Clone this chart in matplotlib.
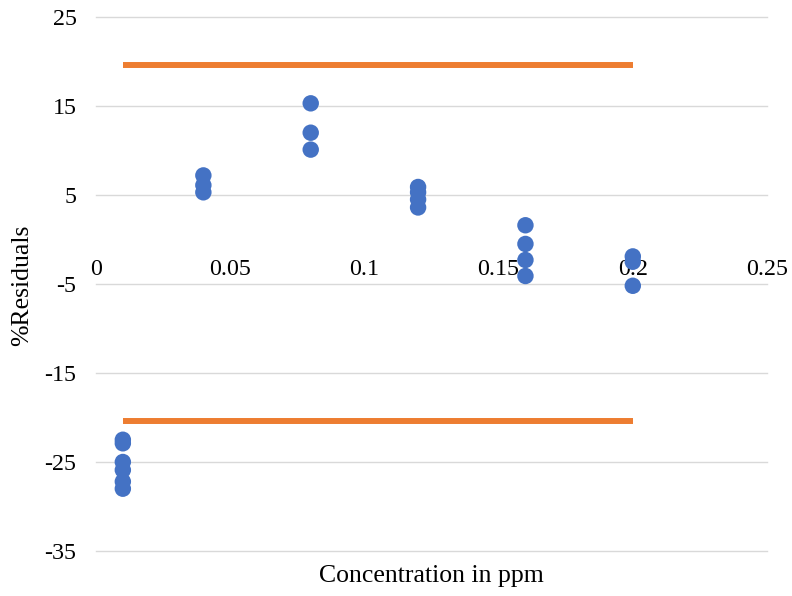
import matplotlib
matplotlib.use("Agg")
import matplotlib.pyplot as plt

# residuals (%) at each calibration level
conc = [0.01, 0.01, 0.01, 0.01, 0.01, 0.01,
        0.04, 0.04, 0.04,
        0.08, 0.08, 0.08,
        0.12, 0.12, 0.12, 0.12,
        0.16, 0.16, 0.16, 0.16,
        0.2, 0.2, 0.2]
residuals = [-22.5, -22.9, -25.0, -25.9, -27.2, -28.0,
             7.2, 6.1, 5.3,
             15.3, 12.0, 10.1,
             5.9, 5.3, 4.5, 3.6,
             1.6, -0.5, -2.3, -4.1,
             -1.9, -2.5, -5.2]

# acceptance limits
limit_x = [0.01, 0.2]
upper_limit = [19.6, 19.6]
lower_limit = [-20.4, -20.4]

plt.rcParams['font.family'] = ['Liberation Serif', 'DejaVu Serif']
plt.rcParams['axes.unicode_minus'] = False

fig = plt.figure(figsize=(7.92, 5.96), dpi=100)
ax = fig.add_axes([96 / 792, 45 / 596, 671 / 792, 534 / 596])

ax.set_ylim(-35, 25)
ax.set_xlim(0, 0.25)
ax.set_yticks([-35, -25, -15, -5, 5, 15, 25])
ax.set_xticks([0, 0.05, 0.1, 0.15, 0.2, 0.25])
ax.set_xticklabels(['0', '0.05', '0.1', '0.15', '0.2', '0.25'])

ax.yaxis.grid(True, color='#D9D9D9', linewidth=1.0)
for gl in ax.get_ygridlines():
    gl.set_clip_on(False)
ax.set_axisbelow(True)

for side in ['left', 'right', 'top']:
    ax.spines[side].set_visible(False)
# horizontal axis crosses at zero, no visible line
ax.spines['bottom'].set_position(('data', 0))
ax.spines['bottom'].set_visible(False)

ax.tick_params(axis='both', length=0, labelsize=17.3, colors='black')
ax.tick_params(axis='x', pad=14)
ax.tick_params(axis='y', pad=14)

ax.plot(limit_x, upper_limit, color='#ED7D31', linewidth=4.3, solid_capstyle='butt', zorder=2)
ax.plot(limit_x, lower_limit, color='#ED7D31', linewidth=4.3, solid_capstyle='butt', zorder=2)
ax.scatter(conc, residuals, s=140, color='#4472C4', edgecolors='none', zorder=3)

fig.text(431 / 792, 1 - 576 / 596, 'Concentration in ppm', ha='center', va='center', fontsize=18.5)
fig.text(22 / 792, 1 - 285 / 596, '%Residuals', ha='center', va='center', rotation=90, fontsize=18.5)

fig.savefig('out.png', dpi=100)
